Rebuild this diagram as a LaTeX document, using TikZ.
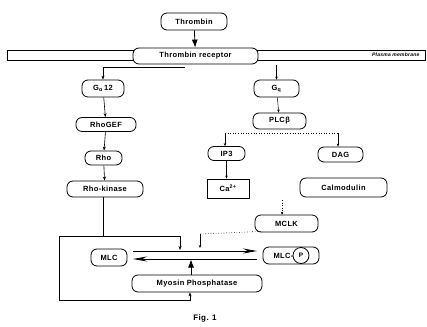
\documentclass[tikz,border=0pt]{standalone}
\usepackage{fontspec}
\setmainfont{Liberation Sans}[LetterSpace=5]
\usepackage{tikz}
\usetikzlibrary{arrows.meta, positioning, calc}
\tikzset{
  basebox/.style={rectangle, rounded corners=6pt, draw=black, line width=0.8pt,
                  align=center, inner sep=0pt,
                  font=\bfseries\fontsize{7.5}{8}\selectfont},
  pathnode/.style={basebox, minimum height=16pt},
  ionnode/.style={basebox, rounded corners=0pt, minimum height=19pt},
  membnode/.style={rectangle, draw=black, line width=0.8pt, inner sep=0pt},
  arrow/.style={-{Stealth[length=4pt, width=3pt]}, line width=0.6pt},
  tinyarrow/.style={-{Stealth[length=3pt, width=2.5pt]}, line width=0.5pt},
  headarrow/.style={-{Latex[length=8pt, width=6pt]}, line width=0.8pt},
  bigarrow/.style={-{Stealth[length=14pt, width=5pt]}, line width=0.8pt},
  dotline/.style={dotted, line width=0.6pt},
  plainline/.style={line width=0.6pt}
}

\begin{document}
\begin{tikzpicture}[x=1pt, y=-1pt]
  \useasboundingbox (0,0) rectangle (427,326);

  % membrane and receptor
  \node[membnode, minimum width=418pt, minimum height=10pt] (memb) at (216,55) {};
  \node[font=\bfseries\itshape\fontsize{5}{6}\selectfont, anchor=east] (membtxt)
      at (423,55) {Plasma membrane};
  \node[pathnode, fill=white, minimum width=125pt] (rec) at (195.5,56) {Thrombin receptor};
  \node[pathnode, minimum width=66pt, minimum height=17pt] (thr) at (194,21.5) {Thrombin};

  % Rho branch
  \node[pathnode, minimum width=42pt, minimum height=17pt] (g12) at (103,88.5)
      {G\textsubscript{α}\,12};
  \node[pathnode, minimum width=60pt, minimum height=14pt] (gef) at (106,124.5) {RhoGEF};
  \node[pathnode, minimum width=37pt, minimum height=14pt] (rho) at (103.5,158) {Rho};
  \node[pathnode, minimum width=76pt] (rhok) at (105,189) {Rho-kinase};

  % Gq branch
  \node[pathnode, minimum width=45pt, minimum height=17pt] (gq) at (276.5,88.5)
      {G\textsubscript{q}};
  \node[pathnode, minimum width=53pt] (plc) at (279.5,121) {PLCβ};
  \node[pathnode, minimum width=37pt, minimum height=14pt] (ip3) at (226.5,153.5) {IP3};
  \node[pathnode, minimum width=45pt, minimum height=15pt] (dag) at (340.5,154.5) {DAG};
  \node[ionnode, minimum width=42pt] (ca) at (228,188.5) {Ca\textsuperscript{2+}};
  \node[pathnode, minimum width=87pt, minimum height=19pt] (calm) at (343.5,187.5) {Calmodulin};
  \node[pathnode, minimum width=63pt, minimum height=17pt] (mclk) at (286.5,223.5) {MCLK};

  % myosin light chain
  \node[pathnode, minimum width=36pt, minimum height=17pt] (mlc) at (109,257.5) {MLC};
  \node[pathnode, minimum width=56pt, minimum height=17pt] (mlcp) at (291,255.5)
      {\hspace*{-15pt}MLC-};
  \node[circle, draw, line width=0.8pt, minimum size=16pt, inner sep=0pt,
        font=\bfseries\fontsize{6.5}{7}\selectfont] (pho) at (301,255.5) {P};
  \node[pathnode, minimum width=130pt, minimum height=17pt] (phos) at (197,283.5)
      {Myosin Phosphatase};
  \node[font=\bfseries\fontsize{8}{9}\selectfont] (fig) at (205,318) {Fig. 1};

  % helper points
  \coordinate (rjoin) at (185,67);
  \coordinate (gqin) at (276.5,65);
  \coordinate (spL) at (225,133);
  \coordinate (spR) at (338,133);
  \coordinate (mclkin) at (282,200);
  \coordinate (kjoin) at (103,236);
  \coordinate (ktop) at (180,236);
  \coordinate (kfwd) at (180,250);
  \coordinate (loopL) at (59,236);
  \coordinate (loopB) at (59,300);
  \coordinate (loopE) at (190,300);
  \coordinate (fwdA) at (133,251);
  \coordinate (fwdB) at (257,251);
  \coordinate (bckA) at (257,259);
  \coordinate (bckB) at (133,259);
  \coordinate (mjoin) at (200,234);
  \coordinate (mfwd) at (200,248);
  \coordinate (pup) at (191,259.5);

  \draw[headarrow] (thr) -- (rec);
  \draw[arrow] (rjoin) -| (g12);
  \draw[tinyarrow] (gqin) -- (gq);
  \foreach \from/\to in {g12/gef, gef/rho, rho/rhok}
    \draw[arrow] (\from) -- (\to);
  \draw[tinyarrow] (gq) -- (plc);
  \draw[dotline] (spL) -- (spR);
  \draw[tinyarrow] (spL) -- (spL |- ip3.north);
  \draw[tinyarrow] (spR) -- (spR |- dag.north);
  \draw[tinyarrow] (ip3) -- (ip3 |- ca.north);
  \draw[tinyarrow, dotted] (mclkin) -- (mclkin |- mclk.north);

  % Rho-kinase to MLC and phosphatase
  \draw[plainline] (rhok.south -| kjoin) -- (kjoin);
  \draw[arrow] (loopL) -- (ktop) -- (kfwd);
  \draw[arrow] (loopL) -- (loopB) -- (loopE) -- (loopE |- phos.south);
  \draw[dotline] (mclk.south west) ++(6pt,1pt) -- (mjoin);
  \draw[tinyarrow] (mjoin) -- (mfwd);

  % phosphorylation cycle
  \draw[bigarrow] (fwdA) -- (fwdB);
  \draw[bigarrow] (bckA) -- (bckB);
  \draw[headarrow] (phos.north -| pup) -- (pup);
\end{tikzpicture}
\end{document}
